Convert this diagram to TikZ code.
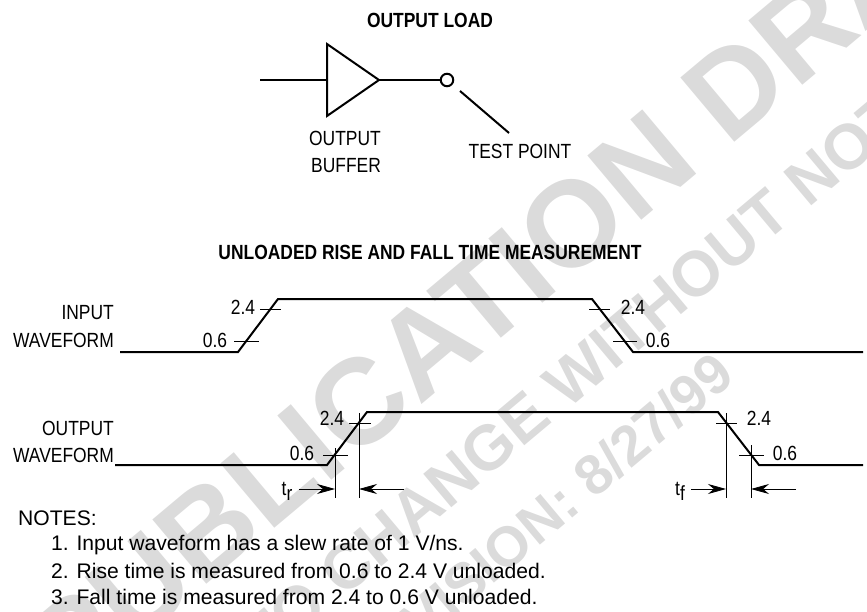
\documentclass[tikz,border=0pt]{standalone}
\usepackage{fontspec}
\setmainfont{Liberation Sans}
\newfontfamily\narrowfont[FakeStretch=0.85]{Liberation Sans}
\usetikzlibrary{arrows.meta,calc}

\begin{document}
\begin{tikzpicture}[
    x=1pt, y=-1pt,
    wave/.style={draw, line width=2pt, line join=miter},
    tick/.style={draw, line width=0.8pt},
    dim/.style={draw, line width=0.8pt, -{Stealth[length=18pt, width=10pt]}},
    label/.style={font=\narrowfont\fontsize{20.5}{22}\selectfont, inner sep=0pt},
    title/.style={font=\narrowfont\fontsize{20.5}{22}\selectfont\bfseries, inner sep=0pt},
    note/.style={font=\fontsize{21.1}{24}\selectfont, inner sep=0pt, anchor=west},
    stamp/.style={text=gray!28, inner sep=0pt, anchor=base west, rotate=40}
]
    \useasboundingbox (0,0) rectangle (867,612);
    \clip (0,0) rectangle (867,612);

    % watermark
    \node [stamp, font=\fontsize{122}{130}\selectfont\bfseries] (markdraft) at (71,699) {PUBLICATION DRAFT};
    \node [stamp, font=\fontsize{63.5}{66}\selectfont\bfseries] (markchange) at (263,666) {TO CHANGE WITHOUT NOTICE};
    \node [stamp, font=\fontsize{56}{60}\selectfont\bfseries] (markrev) at (363,694) {REVISION: 8/27/99};

    % output load
    \node [title] (loadtitle) at (430,20) {OUTPUT LOAD};
    \coordinate (bufin) at (260,80);
    \coordinate (bufa) at (327,44);
    \coordinate (bufb) at (327,116);
    \coordinate (buftip) at (379,80);
    \node [circle, draw, line width=2pt, minimum size=12.5pt, inner sep=0pt] (testpad) at (447,80) {};
    \coordinate (testa) at (460,91);
    \coordinate (testb) at (509,133);
    \draw [wave] (bufa) -- (buftip) -- (bufb) -- cycle;
    \draw [wave] (bufin) -- (327,80);
    \draw [wave] (buftip) -- (testpad);
    \draw [wave] (testa) -- (testb);
    \node [label] (outlabel) at (345,138.5) {OUTPUT};
    \node [label] (buflabel) at (346,166) {BUFFER};
    \node [label] (testlabel) at (520,151) {TEST POINT};

    % waveforms
    \node [title] (risetitle) at (430,252) {UNLOADED RISE AND FALL TIME MEASUREMENT};
    \node [label, anchor=east] (inlabel) at (114,313) {INPUT};
    \node [label, anchor=east] (inwave) at (114,340) {WAVEFORM};
    \node [label, anchor=east] (outwlabel) at (114,428.5) {OUTPUT};
    \node [label, anchor=east] (outwave) at (114,455.5) {WAVEFORM};

    \coordinate (ina) at (120,352);
    \coordinate (inb) at (238,352);
    \coordinate (inc) at (278,299);
    \coordinate (ind) at (592,299);
    \coordinate (ine) at (633,352);
    \coordinate (inf) at (863,352);
    \draw [wave] (ina) -- (inb) -- (inc) -- (ind) -- (ine) -- (inf);

    \coordinate (outa) at (115,465);
    \coordinate (outb) at (327,465);
    \coordinate (outc) at (367,412);
    \coordinate (outd) at (718,412);
    \coordinate (oute) at (759,465);
    \coordinate (outf) at (863,465);
    \draw [wave] (outa) -- (outb) -- (outc) -- (outd) -- (oute) -- (outf);

    % level ticks
    \foreach \xa/\xb/\yy in {260/281/309, 234/259/341, 589/610/309, 613/637/341,
                             349/371/423, 323/348/455, 716/737/423, 739/764/455} {
        \draw [tick] (\xa,\yy) -- (\xb,\yy);
    }
    \foreach \name/\xx/\yy/\txt in {la/243/307/2.4, lb/215/340/0.6, lc/633/307/2.4, ld/658/340/0.6,
                                    le/332/418/2.4, lf/302/453/0.6, lg/759/418/2.4, lh/785/453/0.6} {
        \node [label] (\name) at (\xx,\yy) {\txt};
    }

    % time markers
    \coordinate (risea) at (335,448);
    \coordinate (riseb) at (359,413);
    \coordinate (falla) at (726,413);
    \coordinate (fallb) at (751,445);
    \foreach \x in {risea, riseb, falla, fallb} {
        \draw [tick] (\x) -- (\x |- 0,498);
    }
    \node [label] (trlabel) at (287,491) {t\raisebox{-5pt}{r}};
    \node [label] (tflabel) at (680,491) {t\raisebox{-5pt}{f}};
    \draw [dim] (299,489) -- (risea |- 0,489);
    \draw [dim] (404,489) -- (riseb |- 0,489);
    \draw [dim] (691,489) -- (falla |- 0,489);
    \draw [dim] (796,489) -- (fallb |- 0,489);

    % notes
    \node [note] (notes) at (18,518) {NOTES:};
    \node [note] (notea) at (51,545) {1. Input waveform has a slew rate of 1 V/ns.};
    \node [note] (noteb) at (51,571) {2. Rise time is measured from 0.6 to 2.4 V unloaded.};
    \node [note] (notec) at (51,597) {3. Fall time is measured from 2.4 to 0.6 V unloaded.};
\end{tikzpicture}
\end{document}
